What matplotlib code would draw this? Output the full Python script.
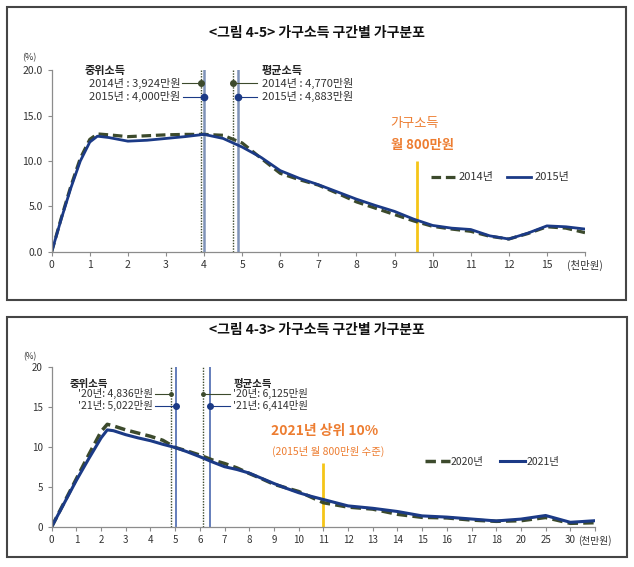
import matplotlib
matplotlib.use("Agg")
import matplotlib.pyplot as plt
from matplotlib.patches import Rectangle

plt.rcParams['font.family'] = ['Noto Sans CJK KR', 'DejaVu Sans']

# ---------------- data: top chart (2014 / 2015) ----------------
top_pos = [0, 0.25, 0.5, 0.75, 1.0, 1.2, 1.5, 2.0, 2.5, 3.0, 3.5, 4.0, 4.5, 5.0, 5.5, 6.0,
           6.5, 7.0, 7.5, 8.0, 8.5, 9.0, 9.5, 10.0, 10.5, 11.0, 11.5, 12.0, 12.5, 13.0, 13.5, 14.0]
top_2014 = [0, 3.7, 7.2, 10.3, 12.4, 13.0, 12.9, 12.7, 12.8, 12.9, 12.95, 12.95, 12.85, 12.0, 10.3, 8.65,
            7.95, 7.35, 6.45, 5.5, 4.8, 4.1, 3.4, 2.8, 2.5, 2.25, 1.7, 1.4, 2.0, 2.75, 2.6, 2.1]
top_2015 = [0, 3.6, 7.0, 10.0, 12.1, 12.75, 12.6, 12.2, 12.3, 12.5, 12.7, 12.95, 12.5, 11.55, 10.4, 8.95,
            8.1, 7.4, 6.6, 5.8, 5.1, 4.45, 3.6, 2.9, 2.6, 2.45, 1.75, 1.4, 2.05, 2.85, 2.75, 2.5]
top_ticks = ['0', '1', '2', '3', '4', '5', '6', '7', '8', '9', '10', '11', '12', '15', '(천만원)']
top_yticks = [0, 5, 10, 15, 20]
top_ylabels = ['0.0', '5.0', '10.0', '15.0', '20.0']
top_median = {'2014': 3.924, '2015': 4.000}
top_mean = {'2014': 4.770, '2015': 4.883}
top_cut = 9.6

# ---------------- data: bottom chart (2020 / 2021) ----------------
bot_pos = [0, 0.5, 1, 1.5, 2, 2.25, 2.5, 3, 3.5, 4, 4.5, 5, 5.5, 6, 6.5, 7, 7.5, 8, 8.5, 9, 9.5,
           10, 10.5, 11, 12, 13, 14, 15, 16, 17, 18, 19, 20, 21, 22]
bot_2020 = [0, 3.0, 6.0, 9.0, 11.9, 12.8, 12.6, 12.1, 11.7, 11.3, 10.8, 9.9, 9.45, 8.95, 8.35, 7.9, 7.35,
            6.65, 6.0, 5.3, 4.85, 4.4, 3.7, 3.0, 2.45, 2.2, 1.55, 1.17, 1.1, 0.83, 0.67, 0.75, 1.15, 0.42, 0.5]
bot_2021 = [0, 2.9, 5.8, 8.5, 11.1, 12.1, 12.0, 11.5, 11.1, 10.75, 10.3, 9.9, 9.35, 8.75, 8.1, 7.5, 7.15,
            6.7, 6.05, 5.4, 4.8, 4.25, 3.8, 3.4, 2.6, 2.3, 1.9, 1.35, 1.2, 0.96, 0.72, 0.95, 1.4, 0.55, 0.75]
bot_ticks = [str(i) for i in range(19)] + ['20', '25', '30', '(천만원)']
bot_yticks = [0, 5, 10, 15, 20]
bot_ylabels = ['0', '5', '10', '15', '20']
bot_median = {'2020': 4.836, '2021': 5.022}
bot_mean = {'2020': 6.125, '2021': 6.414}
bot_cut = 11

OLIVE = '#3c4a2c'
NAVY = '#1b3a86'
STEEL = '#7f93b8'
ORANGE = '#ED7D31'
GOLD = '#F5C518'
AXC = '#8c8c8c'

W, H = 634, 567
fig = plt.figure(figsize=(W / 100, H / 100), dpi=100)

def fx(px):
    return px / W

def fy(py):
    return 1 - py / H

# frames
for (x0, y0, x1, y1) in [(7, 7, 626, 300), (7, 317, 627, 557)]:
    fig.patches.append(Rectangle((fx(x0), fy(y1)), fx(x1 - x0), (y1 - y0) / H,
                                 transform=fig.transFigure, fill=False,
                                 edgecolor='#454545', linewidth=1.5))

fig.text(0.5, fy(33), '<그림 4-5> 가구소득 구간별 가구분포', ha='center', va='center',
         fontsize=10, fontweight='bold', color='#111111')
fig.text(0.5, fy(330), '<그림 4-3> 가구소득 구간별 가구분포', ha='center', va='center',
         fontsize=10, fontweight='bold', color='#111111')


def style_axes(ax, ticks, yticks, ylabels, xmax):
    ax.set_xlim(0, xmax)
    ax.set_ylim(0, 20)
    ax.set_xticks(range(len(ticks)))
    ax.set_xticklabels(ticks, fontsize=7.5, color='#333333')
    ax.set_yticks(yticks)
    ax.set_yticklabels(ylabels, fontsize=7.5, color='#333333')
    for s in ['top', 'right']:
        ax.spines[s].set_visible(False)
    for s in ['left', 'bottom']:
        ax.spines[s].set_color(AXC)
        ax.spines[s].set_linewidth(0.9)
    ax.tick_params(axis='both', colors=AXC, length=3, width=0.8, labelcolor='#333333')
    ax.tick_params(axis='x', pad=3)
    ax.patch.set_alpha(0)


# ---------------- top axes ----------------
ax1 = fig.add_axes([fx(51.7), fy(251.7), fx(585 - 51.7), (251.7 - 70.5) / H])
style_axes(ax1, top_ticks, top_yticks, top_ylabels, 14)
ax1.text(-0.6, 21.4, '(%)', fontsize=6.5, color='#333333', ha='center', va='center')

ax1.axvline(top_median['2014'], color=OLIVE, lw=1.0, ls=(0, (1, 1)))
ax1.axvline(top_median['2015'], color=STEEL, lw=1.8)
ax1.axvline(top_mean['2014'], color=OLIVE, lw=1.0, ls=(0, (1, 1)))
ax1.axvline(top_mean['2015'], color=STEEL, lw=1.8)
ax1.vlines(top_cut, 0, 10, color=GOLD, lw=2)

ax1.plot(top_pos, top_2014, color=OLIVE, lw=2.3, ls=(0, (3, 1.5)), label='2014년')
ax1.plot(top_pos, top_2015, color=NAVY, lw=2.0, label='2015년')

ax1.text(0.87, 20.05, '중위소득', fontsize=8, fontweight='bold', ha='left', va='center', color='#222222')
ax1.text(3.38, 18.6, '2014년 : 3,924만원', fontsize=8, ha='right', va='center', color='#333333')
ax1.text(3.38, 17.1, '2015년 : 4,000만원', fontsize=8, ha='right', va='center', color='#333333')
ax1.plot([3.42, top_median['2014']], [18.6, 18.6], color=OLIVE, lw=0.8)
ax1.plot([top_median['2014']], [18.6], 'o', color=OLIVE, ms=4)
ax1.plot([3.45, top_median['2015']], [17.1, 17.1], color=NAVY, lw=0.8)
ax1.plot([top_median['2015']], [17.1], 'o', color=NAVY, ms=4.5)

ax1.text(5.51, 20.05, '평균소득', fontsize=8, fontweight='bold', ha='left', va='center', color='#222222')
ax1.text(5.51, 18.6, '2014년 : 4,770만원', fontsize=8, ha='left', va='center', color='#333333')
ax1.text(5.51, 17.1, '2015년 : 4,883만원', fontsize=8, ha='left', va='center', color='#333333')
ax1.plot([top_mean['2014'], 5.4], [18.6, 18.6], color=OLIVE, lw=0.8)
ax1.plot([top_mean['2014']], [18.6], 'o', color=OLIVE, ms=4)
ax1.plot([top_mean['2015'], 5.4], [17.1, 17.1], color=NAVY, lw=0.8)
ax1.plot([top_mean['2015']], [17.1], 'o', color=NAVY, ms=4.5)

ax1.text(8.9, 14.2, '가구소득', fontsize=9.5, ha='left', va='center', color=ORANGE)
ax1.text(8.9, 11.8, '월 800만원', fontsize=9.5, fontweight='bold', ha='left', va='center', color=ORANGE)

ax1.legend(loc='center left', bbox_to_anchor=(9.95, 8.2), bbox_transform=ax1.transData,
           ncol=2, frameon=False, fontsize=8, handlelength=2.2, handletextpad=0.3,
           columnspacing=1.2, borderpad=0, borderaxespad=0, labelcolor='#333333')

# ---------------- bottom axes ----------------
ax2 = fig.add_axes([fx(51.7), fy(526.7), fx(595 - 51.7), (526.7 - 366.7) / H])
style_axes(ax2, bot_ticks, bot_yticks, bot_ylabels, 22)
ax2.tick_params(axis='both', labelsize=7)
ax2.text(-0.9, 21.3, '(%)', fontsize=6, color='#333333', ha='center', va='center')

ax2.axvline(bot_median['2020'], color=OLIVE, lw=1.0, ls=(0, (1, 1)))
ax2.axvline(bot_median['2021'], color='#3a5ba8', lw=1.1)
ax2.axvline(bot_mean['2020'], color=OLIVE, lw=1.0, ls=(0, (1, 1)))
ax2.axvline(bot_mean['2021'], color='#3a5ba8', lw=1.1)
ax2.vlines(bot_cut, 0, 8, color=GOLD, lw=2)

ax2.plot(bot_pos, bot_2020, color=OLIVE, lw=2.5, ls=(0, (3, 1.5)), label='2020년')
ax2.plot(bot_pos, bot_2021, color=NAVY, lw=2.2, label='2021년')

ax2.text(0.74, 17.9, '중위소득', fontsize=7.5, fontweight='bold', ha='left', va='center', color='#222222')
ax2.text(4.11, 16.6, "'20년: 4,836만원", fontsize=7.5, ha='right', va='center', color='#333333')
ax2.text(4.11, 15.1, "'21년: 5,022만원", fontsize=7.5, ha='right', va='center', color='#333333')
ax2.plot([4.18, bot_median['2020']], [16.6, 16.6], color=OLIVE, lw=0.8)
ax2.plot([bot_median['2020']], [16.6], 'o', color=OLIVE, ms=2.5)
ax2.plot([4.18, bot_median['2021']], [15.1, 15.1], color=NAVY, lw=0.8)
ax2.plot([bot_median['2021']], [15.1], 'o', color=NAVY, ms=4)

ax2.text(7.35, 17.9, '평균소득', fontsize=7.5, fontweight='bold', ha='left', va='center', color='#222222')
ax2.text(7.33, 16.6, "'20년: 6,125만원", fontsize=7.5, ha='left', va='center', color='#333333')
ax2.text(7.33, 15.1, "'21년: 6,414만원", fontsize=7.5, ha='left', va='center', color='#333333')
ax2.plot([bot_mean['2020'], 7.22], [16.6, 16.6], color=OLIVE, lw=0.8)
ax2.plot([bot_mean['2020']], [16.6], 'o', color=OLIVE, ms=2.5)
ax2.plot([bot_mean['2021'], 7.22], [15.1, 15.1], color=NAVY, lw=0.8)
ax2.plot([bot_mean['2021']], [15.1], 'o', color=NAVY, ms=4)

ax2.text(11.05, 11.9, '2021년 상위 10%', fontsize=10, fontweight='bold', ha='center', va='center', color=ORANGE)
ax2.text(11.2, 9.4, '(2015년 월 800만원 수준)', fontsize=7.5, ha='center', va='center', color=ORANGE)

ax2.legend(loc='center left', bbox_to_anchor=(15.1, 8.1), bbox_transform=ax2.transData,
           ncol=2, frameon=False, fontsize=7.5, handlelength=2.4, handletextpad=0.1,
           columnspacing=1.6, borderpad=0, borderaxespad=0, labelcolor='#333333')

fig.savefig('out.png', dpi=100)
